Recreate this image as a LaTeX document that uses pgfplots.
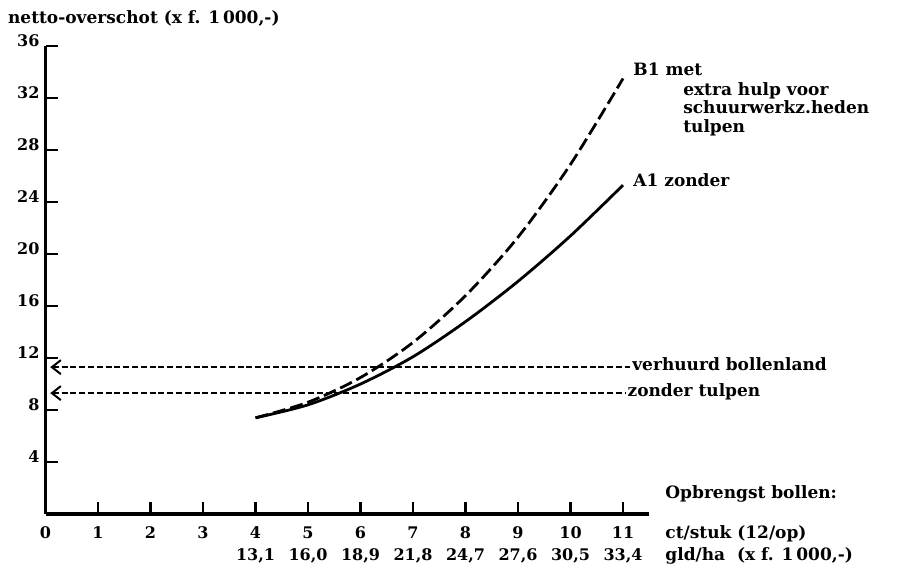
\documentclass[border=0pt]{standalone}
\usepackage{fontspec}
\setmainfont{DejaVu Serif}
\usepackage{pgfplots}
\pgfplotsset{compat=1.18}
\usetikzlibrary{arrows.meta}

\newcommand{\lbl}{\fontsize{8.5}{10}\selectfont\bfseries}

\begin{document}
\begin{tikzpicture}
\begin{axis}[
  x=26.25pt, y=6.5pt,
  xmin=0, xmax=11.5, ymin=0, ymax=36,
  axis x line=bottom, axis y line=left,
  axis line style={-, line width=1.6pt},
  tick align=inside,
  major tick length=6pt,
  tick style={line width=1.4pt, black},
  xtick={0,...,11},
  xticklabels={0,1,2,3,{4\\13,1},{5\\16,0},{6\\18,9},{7\\21,8},{8\\24,7},{9\\27,6},{10\\30,5},{11\\33,4}},
  ytick={4,8,...,36},
  /pgf/number format/assume math mode=true,
  tick label style={font=\fontsize{8}{11}\selectfont\bfseries},
  xticklabel style={align=center, anchor=north, yshift=-3pt},
  yticklabel style={anchor=base east, xshift=0.5pt},
  clip=false,
]
% A1 zonder extra hulp
\addplot[black, line width=1.4pt, smooth] coordinates {
  (4,7.4) (5,8.4) (6,10.0) (7,12.1) (8,14.8) (9,17.9) (10,21.4) (11,25.3)
};
% B1 met extra hulp
\addplot[black, line width=1.4pt, smooth, dash pattern=on 6.5pt off 2.5pt] coordinates {
  (4,7.4) (5,8.6) (6,10.5) (7,13.2) (8,16.8) (9,21.3) (10,26.9) (11,33.5)
};
% verhuurd bollenland / zonder tulpen
\addplot[black, line width=0.9pt, dash pattern=on 3pt off 1.4pt,
  {Straight Barb[length=4.5pt,width=7pt,line width=1pt]}-] coordinates {(0.09,11.3) (11.13,11.3)};
\addplot[black, line width=0.9pt, dash pattern=on 3pt off 1.4pt,
  {Straight Barb[length=4.5pt,width=7pt,line width=1pt]}-] coordinates {(0.09,9.3) (11.04,9.3)};

\node[anchor=base west, inner sep=0pt, font=\lbl] at (axis cs:-0.72,37.75) {netto-overschot (x f. 1\,000,-)};
\node[anchor=base west, inner sep=0pt, font=\lbl] at (axis cs:11.19,33.7) {B1 met};
\node[anchor=base west, inner sep=0pt, font=\lbl] at (axis cs:12.14,32.2) {extra hulp voor};
\node[anchor=base west, inner sep=0pt, font=\lbl] at (axis cs:12.14,30.8) {schuurwerkz.heden};
\node[anchor=base west, inner sep=0pt, font=\lbl] at (axis cs:12.14,29.35) {tulpen};
\node[anchor=base west, inner sep=0pt, font=\lbl] at (axis cs:11.19,25.2) {A1 zonder};
\node[anchor=base west, inner sep=0pt, font=\lbl] at (axis cs:11.17,11.05) {verhuurd bollenland};
\node[anchor=base west, inner sep=0pt, font=\lbl] at (axis cs:11.08,9.03) {zonder tulpen};
\node[anchor=base west, inner sep=0pt, font=\lbl] at (axis cs:11.8,1.23) {Opbrengst bollen:};
\node[anchor=base west, inner sep=0pt, font=\lbl] at (axis cs:11.8,-1.92) {ct/stuk (12/op)};
\node[anchor=base west, inner sep=0pt, font=\lbl] at (axis cs:11.8,-3.6) {gld/ha\ \ (x f. 1\,000,-)};

\coordinate (bl) at (axis cs:-0.867,-4.077);
\coordinate (tr) at (axis cs:16.39,39.54);
\end{axis}
\pgfresetboundingbox
\path[use as bounding box] (bl) rectangle (tr);
\end{tikzpicture}
\end{document}
